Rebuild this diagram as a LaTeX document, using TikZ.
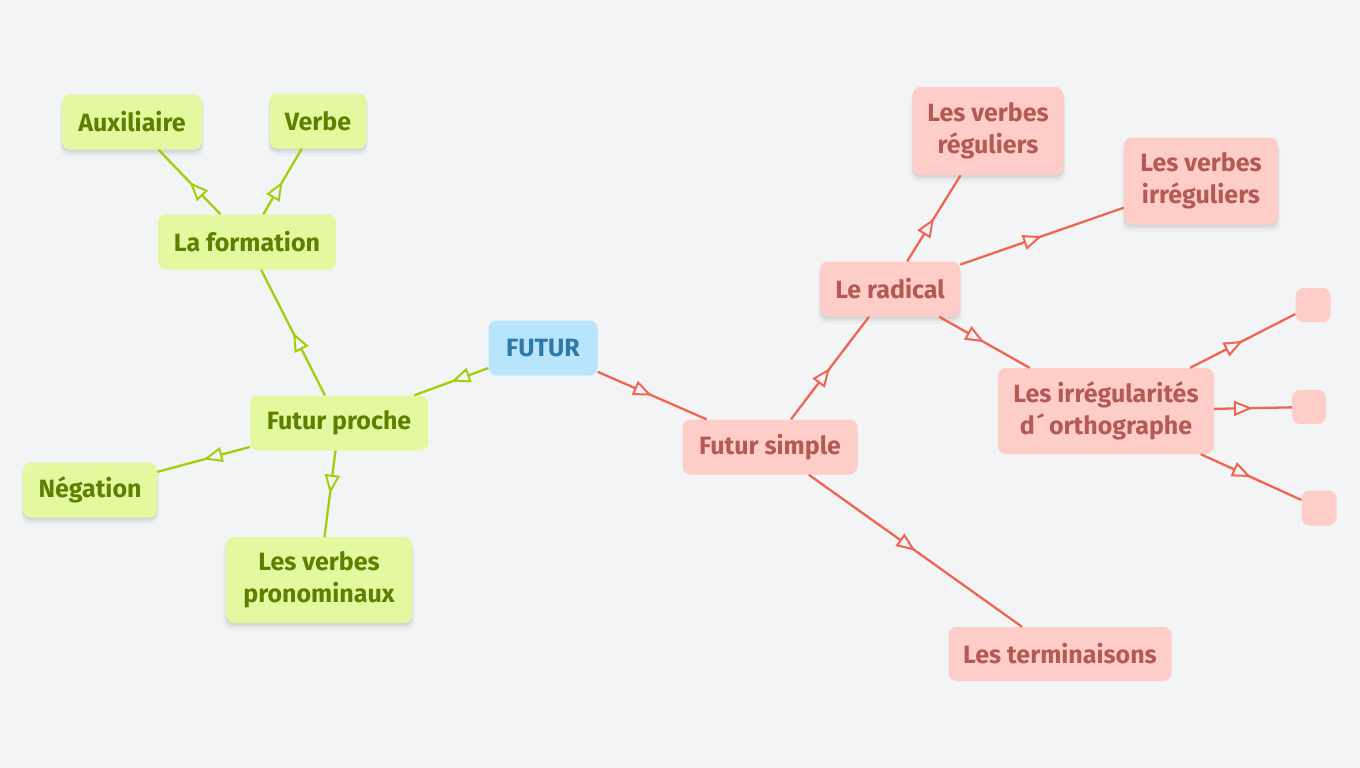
\documentclass[tikz,border=0pt]{standalone}
\usepackage{fontspec}
\setmainfont{Fira Sans}
\usetikzlibrary{arrows.meta,decorations.markings,shadows}
\definecolor{bg}{HTML}{F3F4F6}
\definecolor{gfill}{HTML}{E4F8A0}
\definecolor{gtext}{HTML}{5E7F00}
\definecolor{gline}{HTML}{A6CC0A}
\definecolor{rfill}{HTML}{FFCDC8}
\definecolor{rtext}{HTML}{B35A55}
\definecolor{rline}{HTML}{F06452}
\definecolor{bfill}{HTML}{B8E4FC}
\definecolor{btext}{HTML}{2F79A8}
\tikzset{
  box/.style={rounded corners=8pt, inner sep=0pt, align=center,
    font=\fontsize{25}{32}\selectfont\bfseries},
  gbox/.style={box, fill=gfill, text=gtext},
  rbox/.style={box, fill=rfill, text=rtext},
  shad/.style={
    drop shadow={opacity=0.06, shadow xshift=0pt, shadow yshift=-6pt, shadow scale=1.03},
    drop shadow={opacity=0.10, shadow xshift=0pt, shadow yshift=-4pt, shadow scale=1.01},
    drop shadow={opacity=0.12, shadow xshift=0pt, shadow yshift=-2pt}},
  midarr/.style={postaction={decorate}, decoration={markings,
    mark=at position 0.5 with {\arrow{Triangle[length=19pt,width=15pt,line width=2pt,fill=bg]}}}},
  gedge/.style={draw=gline, line width=2.3pt, midarr},
  redge/.style={draw=rline, line width=2.3pt, midarr},
}
\begin{document}
\begin{tikzpicture}[x=1pt,y=-1pt]
\fill[bg] (0,0) rectangle (1360,768);
\useasboundingbox (0,0) rectangle (1360,768);

% nodes
\node[box, fill=bfill, text=btext, minimum width=109pt, minimum height=55pt] (futur) at (543,348) {FUTUR};

\node[gbox, minimum width=178pt, minimum height=55pt] (proche) at (339,423) {Futur proche};
\node[gbox, minimum width=178pt, minimum height=55pt] (form) at (247,242) {La formation};
\node[gbox, shad, minimum width=140pt, minimum height=55pt] (aux) at (132,122) {Auxiliaire};
\node[gbox, shad, minimum width=97pt, minimum height=55pt] (verbe) at (318,121) {Verbe};
\node[gbox, shad, minimum width=134pt, minimum height=55pt] (neg) at (90,490) {Négation};
\node[gbox, shad, minimum width=186pt, minimum height=86pt] (pron) at (319,580) {Les verbes\\pronominaux};

\node[rbox, minimum width=175pt, minimum height=55pt] (simple) at (770,447) {Futur simple};
\node[rbox, shad, minimum width=140pt, minimum height=55pt] (rad) at (890,289) {Le radical};
\node[rbox, shad, minimum width=151pt, minimum height=88pt] (reg) at (988,131) {Les verbes\\réguliers};
\node[rbox, shad, minimum width=154pt, minimum height=87pt] (irreg) at (1201,181) {Les verbes\\irréguliers};
\node[rbox, minimum width=216pt, minimum height=86pt] (ortho) at (1106,411) {Les irrégularités\\d\,\'{}\,orthographe};
\node[rbox, minimum width=35pt, minimum height=34pt] (s1) at (1313,305) {};
\node[rbox, minimum width=34pt, minimum height=34pt] (s2) at (1309,407) {};
\node[rbox, minimum width=35pt, minimum height=35pt] (s3) at (1319,508) {};
\node[rbox, minimum width=223pt, minimum height=54pt] (term) at (1060,654) {Les terminaisons};

% edges
\path[gedge] (futur) -- (proche);
\path[gedge] (proche) -- (form);
\path[gedge] (form) -- (aux);
\path[gedge] (form) -- (verbe);
\path[gedge] (proche) -- (neg);
\path[gedge] (proche) -- (pron);

\path[redge] (futur) -- (simple);
\path[redge] (simple) -- (rad);
\path[redge] (simple) -- (term);
\path[redge] (rad) -- (reg);
\path[redge] (rad) -- (irreg);
\path[redge] (rad) -- (ortho);
\path[redge] (ortho) -- (s1);
\path[redge] (ortho) -- (s2);
\path[redge] (ortho) -- (s3);
\end{tikzpicture}
\end{document}
